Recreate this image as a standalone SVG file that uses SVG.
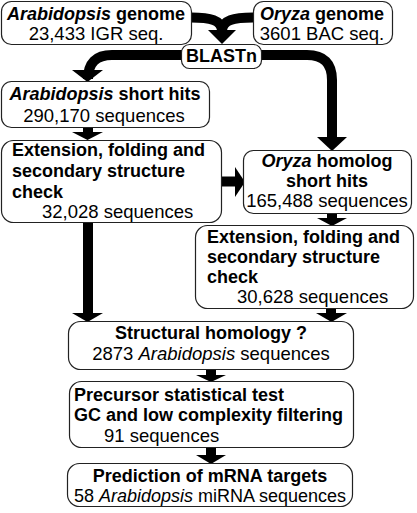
<svg xmlns="http://www.w3.org/2000/svg" width="417" height="513" viewBox="0 0 417 513">
<style>
.box{fill:#fff;stroke:#222;stroke-width:1.2}
text{font-family:"Liberation Sans",Arial,sans-serif;font-size:18.5px;fill:#000}
.b{font-weight:bold;font-size:18px}
.i{font-style:italic}
.c{text-anchor:middle}
.sh{fill:none;stroke:#000;stroke-width:10}
.hd{fill:#000}
</style>
<rect width="417" height="513" fill="#fff"/>
<g id="connectors">
<path class="sh" d="M191,17.5 C210,17.5 222,20 222,31"/>
<path class="sh" d="M253,17.5 C234,17.5 222,20 222,31"/>
<polygon class="hd" points="208,30 236,30 222,44"/>
<path class="sh" d="M182,55 H112 Q88,55 88,79 V71"/>
<polygon class="hd" points="72,70 103,70 87.5,82"/>
<path class="sh" d="M261,55 H307 Q332,55 332,80 V138"/>
<polygon class="hd" points="317,137 347,137 332,151"/>
<path class="sh" d="M88,127 V133"/>
<polygon class="hd" points="72,132 103,132 87.5,140"/>
<path class="sh" d="M221,181.5 H236"/>
<polygon class="hd" points="235,167 235,197 245,182"/>
<path class="sh" d="M332,213 V219"/>
<polygon class="hd" points="317,218 347,218 332,226"/>
<path class="sh" d="M88,222 V314"/>
<polygon class="hd" points="72,313 103,313 87.5,322"/>
<path class="sh" d="M331,308 V314"/>
<polygon class="hd" points="316,313 347,313 331.5,322"/>
<path class="sh" d="M211,369 V376"/>
<polygon class="hd" points="196,375 226,375 211,382"/>
<path class="sh" d="M211,447 V456"/>
<polygon class="hd" points="196,455 226,455 211,464"/>
</g>
<g id="arab-genome">
<rect class="box" x="1.5" y="1.5" width="190" height="43" rx="10"/>
<text class="c b" x="96" y="20"><tspan class="i">Arabidopsis</tspan> genome</text>
<text class="c" x="96" y="39.5">23,433 IGR seq.</text>
</g>
<g id="oryza-genome">
<rect class="box" x="253.5" y="1.5" width="139" height="43" rx="10"/>
<text class="c b" x="322" y="20"><tspan class="i">Oryza</tspan> genome</text>
<text class="c" x="322" y="39.5">3601 BAC seq.</text>
</g>
<g id="blastn">
<rect class="box" x="181.5" y="44.5" width="80" height="24" rx="8"/>
<text class="c b" x="221.5" y="62">BLASTn</text>
</g>
<g id="arab-short">
<rect class="box" x="1.5" y="81.5" width="208" height="46" rx="10"/>
<text class="c b" x="105" y="100"><tspan class="i">Arabidopsis</tspan> short hits</text>
<text class="c" x="104" y="122">290,170 sequences</text>
</g>
<g id="ext-left">
<rect class="box" x="1.5" y="140.5" width="220" height="82" rx="12"/>
<text class="b" x="12" y="156">Extension, folding and</text>
<text class="b" x="12" y="177">secondary structure</text>
<text class="b" x="12" y="197.5">check</text>
<text x="42" y="218">32,028 sequences</text>
</g>
<g id="oryza-homolog">
<rect class="box" x="243.5" y="150.5" width="168" height="63" rx="10"/>
<text class="c b" x="327" y="167"><tspan class="i">Oryza</tspan> homolog</text>
<text class="c b" x="327" y="187">short hits</text>
<text class="c" x="327" y="207">165,488 sequences</text>
</g>
<g id="ext-right">
<rect class="box" x="195.5" y="225.5" width="218" height="83" rx="12"/>
<text class="b" x="207" y="243">Extension, folding and</text>
<text class="b" x="207" y="263">secondary structure</text>
<text class="b" x="207" y="283">check</text>
<text x="237" y="303">30,628 sequences</text>
</g>
<g id="structural">
<rect class="box" x="68.5" y="321.5" width="285" height="48" rx="12"/>
<text class="c b" x="211" y="339">Structural homology ?</text>
<text class="c" x="211" y="360">2873 <tspan class="i">Arabidopsis</tspan> sequences</text>
</g>
<g id="precursor">
<rect class="box" x="69.5" y="381.5" width="284" height="66" rx="12"/>
<text class="b" x="74" y="401">Precursor statistical test</text>
<text class="b" x="74" y="421">GC and low complexity filtering</text>
<text x="104" y="442">91 sequences</text>
</g>
<g id="prediction">
<rect class="box" x="67.5" y="463.5" width="285" height="43" rx="12"/>
<text class="c b" x="210" y="482">Prediction of mRNA targets</text>
<text class="c" x="210" y="502" style="font-size:18px">58 <tspan class="i">Arabidopsis</tspan> miRNA sequences</text>
</g>
</svg>
